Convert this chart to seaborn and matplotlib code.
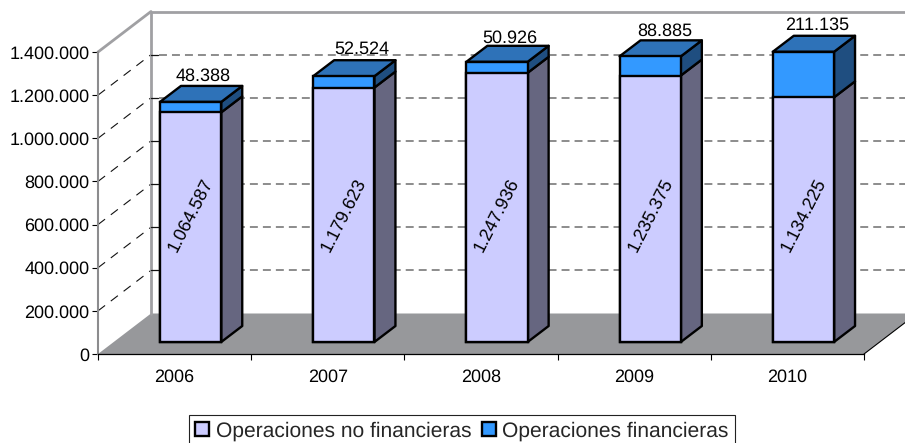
#!/usr/bin/env python3
import matplotlib
matplotlib.use("Agg")
import matplotlib.pyplot as plt
import pandas as pd
import seaborn as sns
from matplotlib.patches import Polygon
from matplotlib.transforms import Affine2D, IdentityTransform

years = ["2006", "2007", "2008", "2009", "2010"]
no_financieras = [1064587, 1179623, 1247936, 1235375, 1134225]
financieras = [48388, 52524, 50926, 88885, 211135]
y_ticks = [0, 200000, 400000, 600000, 800000, 1000000, 1200000, 1400000]
legend_labels = ["Operaciones no financieras", "Operaciones financieras"]


def es_num(v):
    return f"{v:,}".replace(",", ".")


def face(ax, pts, color, z):
    ax.add_patch(Polygon(pts, closed=True, facecolor=color, edgecolor="black", linewidth=1.7,
                         joinstyle="round", transform=IdentityTransform(), clip_on=False, zorder=z))


sns.set_theme(style="ticks")
plt.rcParams["font.family"] = ["Liberation Sans", "DejaVu Sans"]
plt.rcParams["text.hinting"] = "no_hinting"
plt.rcParams["text.hinting_factor"] = 1

df = pd.DataFrame({"year": years, "no_fin": no_financieras, "fin": financieras})
df["total"] = df["no_fin"] + df["fin"]

W, H = 905, 443
fig = plt.figure(figsize=(W / 100, H / 100), dpi=100)
ax = fig.add_axes([98 / W, 1 - 354 / H, 766 / W, 302 / H])
ax.patch.set_visible(False)

sns.barplot(data=df, x="year", y="total", color="#3399FF", saturation=1, width=0.4, ax=ax,
            edgecolor="black", linewidth=1.7, zorder=5, label=legend_labels[1])
sns.barplot(data=df, x="year", y="no_fin", color="#CCCCFF", saturation=1, width=0.4, ax=ax,
            edgecolor="black", linewidth=1.7, zorder=6, label=legend_labels[0])
ax.set_xlim(-0.5, 4.5)
ax.set_ylim(0, 1400000)
ax.set_xlabel("")
ax.set_ylabel("")

# the fake 3D: back wall and floor are the axes moved back, bars sit in between
back = (53, 40.5)
bar_off = (16, 12)
depth = (21, 16)
td = ax.transData
pix = IdentityTransform()


def px(x, y, off=(0, 0)):
    p = td.transform((x, y))
    return (p[0] + off[0], p[1] + off[1])


def seg(pts, **kw):
    ax.plot([p[0] for p in pts], [p[1] for p in pts], transform=pix, clip_on=False, **kw)


ax.add_patch(Polygon([px(-0.5, 0), px(4.5, 0), px(4.5, 0, back), px(-0.5, 0, back)], closed=True,
                     facecolor="#97989B", edgecolor="none", transform=pix, clip_on=False, zorder=1))
for v in y_ticks[1:-1]:
    a, b, c = px(-0.5, v), px(-0.5, v, back), px(4.5, v, back)
    seg([a, b], color="#111111", linewidth=0.8, dashes=(8, 6.5), zorder=2)
    seg([(b[0] + 8, b[1]), c], color="#6E6E6E", linewidth=1.1, dashes=(5.2, 3.3), zorder=2)
    seg([b, (b[0] + 7, b[1])], color="#111111", linewidth=0.9, zorder=3)
seg([px(-0.5, 0, back), px(-0.5, 1400000, back), px(4.5, 1400000, back)], color="#A0A0A3",
    linewidth=2, zorder=2)
seg([px(-0.5, 1400000), px(-0.5, 1400000, back)], color="#A0A0A3", linewidth=2, zorder=2)
seg([px(4.5, 0), px(4.5, 0, back)], color="black", linewidth=0.8, zorder=2)

shift = td + Affine2D().translate(*bar_off)
for p in ax.patches:
    if p.get_zorder() >= 5:
        p.set_transform(shift)
        p.set_clip_on(False)

# small shifts so the labels land where the reference has them
label_nudge = [(13, 17), (18, 19), (13, 15), (15, 17), (14, 18)]
label_mid = 645000

for i, (nf, tot) in enumerate(zip(no_financieras, df["total"])):
    x0, x1 = i - 0.2, i + 0.2
    fr = bar_off
    bk = (bar_off[0] + depth[0], bar_off[1] + depth[1])
    face(ax, [px(x1, 0, fr), px(x1, nf, fr), px(x1, nf, bk), px(x1, 0, bk)], "#666680", 4)
    face(ax, [px(x1, nf, fr), px(x1, tot, fr), px(x1, tot, bk), px(x1, nf, bk)], "#1F4E80", 4)
    face(ax, [px(x0, tot, fr), px(x1, tot, fr), px(x1, tot, bk), px(x0, tot, bk)], "#2E72B8", 4)

    ax.text(i, label_mid, es_num(nf), rotation=63, ha="center", va="center", fontsize=13, color="black",
            transform=td + Affine2D().translate(bar_off[0], 0), zorder=8, rotation_mode="anchor")
    ax.text(i, tot, es_num(financieras[i]), ha="center", va="bottom", fontsize=13.2, color="black",
            transform=td + Affine2D().translate(bar_off[0] + label_nudge[i][0],
                                                bar_off[1] + label_nudge[i][1]),
            zorder=8, clip_on=False)

ax.set_yticks(y_ticks)
ax.set_yticklabels([es_num(v) for v in y_ticks])
ax.set_xticks([i - 0.5 for i in range(6)], minor=True)
ax.tick_params(axis="x", which="major", length=0, pad=11, labelsize=13.2, labelcolor="black")
ax.tick_params(axis="x", which="minor", length=4.3, width=0.8, color="black")
ax.tick_params(axis="y", length=4, width=0.8, pad=2, labelsize=13.2, labelcolor="black", color="black")
sns.despine(ax=ax)
ax.spines["left"].set_color("#8C8C8E")
ax.spines["left"].set_linewidth(1.5)
ax.spines["bottom"].set_color("black")
ax.spines["bottom"].set_linewidth(0.9)

leg = ax.legend(handles=[ax.containers[1], ax.containers[0]], labels=legend_labels, ncol=2,
                loc="center", bbox_to_anchor=(462 / W, 1 - 431 / H), bbox_transform=fig.transFigure,
                frameon=True, fancybox=False, framealpha=1, edgecolor="#222222", fontsize=15.3,
                handlelength=0.66, handleheight=0.66, handletextpad=0.3, columnspacing=0.5,
                borderpad=0.3, borderaxespad=0)
leg.get_frame().set_linewidth(0.8)

fig.savefig("out.png", dpi=100)
